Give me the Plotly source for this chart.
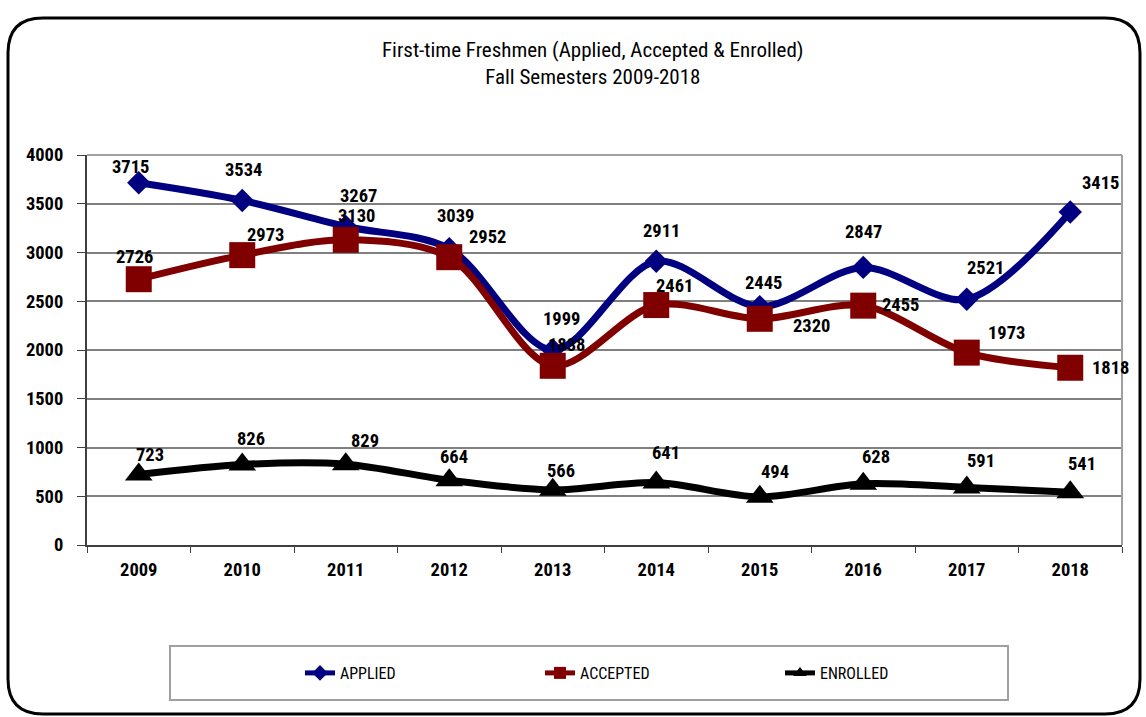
import plotly.graph_objects as go

years = ["2009", "2010", "2011", "2012", "2013", "2014", "2015", "2016", "2017", "2018"]
applied = [3715, 3534, 3267, 3039, 1999, 2911, 2445, 2847, 2521, 3415]
accepted = [2726, 2973, 3130, 2952, 1838, 2461, 2320, 2455, 1973, 1818]
enrolled = [723, 826, 829, 664, 566, 641, 494, 628, 591, 541]
y_ticks = [0, 500, 1000, 1500, 2000, 2500, 3000, 3500, 4000]

# label offsets in pixels (dx right, dy down) - styling only
off_applied = [(-8, -16), (1, -30), (13, -30), (6, -33), (9, -31), (5, -30), (4, -24), (0, -35), (19, -31), (30, -29)]
off_accepted = [(-4, -22), (23, -20), (11, -24), (38, -20), (14, -21), (18, -19), (52, 7), (37, -1), (40, -20), (40, 0)]
off_enrolled = [(11, -20), (9, -25), (19, -23), (5, -23), (8, -19), (10, -30), (15, -25), (13, -27), (14, -26), (12, -28)]

FONT = ("Liberation Sans Narrow, Arial Narrow, Roboto Condensed, "
        "DejaVu Sans Condensed, Liberation Sans, Arial, sans-serif")
W, H = 1146, 717
L, R, T, B = 87, 1122, 155, 545


def px(x):
    return (x - L) / (R - L)


def py(y):
    return (B - y) / (B - T)


fig = go.Figure()
series = [
    ("APPLIED", applied, "#000080", "diamond", 18, off_applied),
    ("ACCEPTED", accepted, "#800000", "square", 26, off_accepted),
    ("ENROLLED", enrolled, "#000000", "triangle-up", 24, off_enrolled),
]
annotations = []
for name, vals, col, sym, size, offs in series:
    fig.add_trace(go.Scatter(
        x=years, y=vals, name=name, mode="lines+markers",
        line=dict(color=col, width=7, shape="spline", smoothing=0.9),
        marker=dict(symbol=sym, size=size, color=col),
    ))
    for i, (yv, (dx, dy)) in enumerate(zip(vals, offs)):
        annotations.append(dict(
            x=i, y=yv, xref="x", yref="y", text=str(yv), showarrow=False,
            xshift=dx, yshift=-dy,
            font=dict(family=FONT, size=18.5, color="#000000", weight="bold"),
        ))

annotations.append(dict(
    xref="paper", yref="paper", x=px(593), y=py(64), xanchor="center", yanchor="middle",
    text="First-time Freshmen (Applied, Accepted & Enrolled)<br>Fall Semesters 2009-2018",
    showarrow=False, font=dict(family=FONT, size=21, color="#000000"),
))

shapes = [
    dict(type="line", xref="paper", yref="paper", x0=0, x1=1, y0=1, y1=1,
         line=dict(color="#a0a0a0", width=2)),
    dict(type="line", xref="paper", yref="paper", x0=1, x1=1, y0=0, y1=1,
         line=dict(color="#a0a0a0", width=2)),
    dict(type="rect", xref="paper", yref="paper", x0=px(170), x1=px(1008), y0=py(700), y1=py(646),
         line=dict(color="#a0a0a0", width=2), fillcolor="rgba(0,0,0,0)"),
]
x0, x1, y0, y1, r = 8, 1140, 18, 714, 35
path = (f"M {px(x0+r)},{py(y0)} L {px(x1-r)},{py(y0)} "
        f"Q {px(x1)},{py(y0)} {px(x1)},{py(y0+r)} L {px(x1)},{py(y1-r)} "
        f"Q {px(x1)},{py(y1)} {px(x1-r)},{py(y1)} L {px(x0+r)},{py(y1)} "
        f"Q {px(x0)},{py(y1)} {px(x0)},{py(y1-r)} L {px(x0)},{py(y0+r)} "
        f"Q {px(x0)},{py(y0)} {px(x0+r)},{py(y0)} Z")
shapes.append(dict(type="path", xref="paper", yref="paper", path=path,
                   line=dict(color="#000000", width=3)))

fig.update_layout(
    width=W, height=H,
    margin=dict(l=L, r=W - R, t=T, b=H - B),
    paper_bgcolor="white", plot_bgcolor="white",
    font=dict(family=FONT, size=18.5, color="#000000"),
    showlegend=True,
    legend=dict(
        orientation="h", x=px(300), y=py(673), xanchor="left", yanchor="middle",
        font=dict(family=FONT, size=16, color="#000000"),
        entrywidth=195, entrywidthmode="pixels", itemsizing="constant",
        bgcolor="rgba(0,0,0,0)", borderwidth=0,
    ),
    xaxis=dict(
        type="category", showline=True, linecolor="#404040", linewidth=2,
        ticks="outside", tickson="boundaries", ticklen=6, tickcolor="#404040",
        showgrid=False, tickfont=dict(family=FONT, size=18.5, weight="bold"),
        ticklabelstandoff=7, range=[-0.5, 9.5],
    ),
    yaxis=dict(
        range=[0, 4000], tickvals=y_ticks, showline=True, linecolor="#404040", linewidth=2,
        ticks="outside", ticklen=8, tickcolor="#404040",
        showgrid=True, gridcolor="#808080", gridwidth=1.5,
        tickfont=dict(family=FONT, size=18.5, weight="bold"), ticklabelstandoff=10,
        zeroline=False,
    ),
    annotations=annotations,
    shapes=shapes,
)

fig.write_html("out.html", config={"displayModeBar": False},
               post_script="document.body.style.margin='0px';")
